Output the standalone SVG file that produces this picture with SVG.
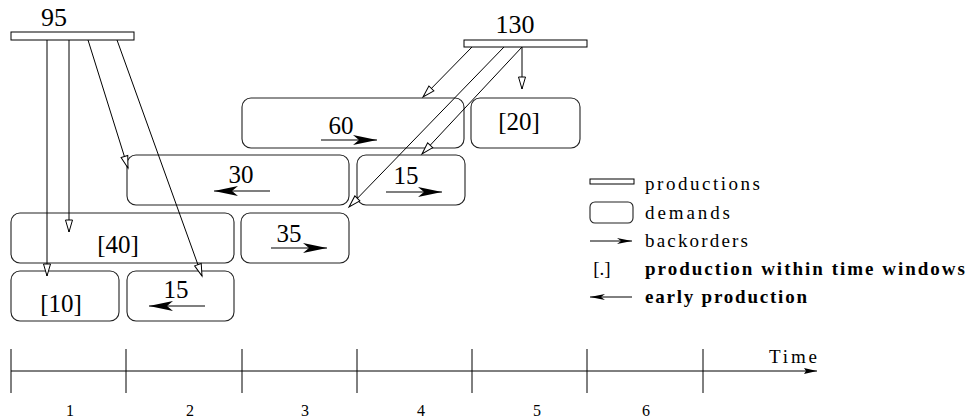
<svg xmlns="http://www.w3.org/2000/svg" width="967" height="419" viewBox="0 0 967 419">
  <defs>
    <marker id="open" markerUnits="userSpaceOnUse" markerWidth="14" markerHeight="9" refX="12" refY="3.5" orient="auto" overflow="visible">
      <path d="M0,0 L12,3.5 L0,7 z" fill="#fff" stroke="#000" stroke-width="1"/>
    </marker>
    <marker id="stealth" markerUnits="userSpaceOnUse" markerWidth="26" markerHeight="11" refX="24" refY="5" orient="auto" overflow="visible">
      <path d="M24,5 L0,0 L6,5 L0,10 z" fill="#000"/>
    </marker>
    <marker id="stealthS" markerUnits="userSpaceOnUse" markerWidth="16" markerHeight="8" refX="15" refY="3" orient="auto" overflow="visible">
      <path d="M15,3 L0,0 L4,3 L0,6 z" fill="#000"/>
    </marker>
    <marker id="tri" markerUnits="userSpaceOnUse" markerWidth="14" markerHeight="8" refX="13" refY="3" orient="auto" overflow="visible">
      <path d="M13,3 L0,0 L2,3 L0,6 z" fill="#000"/>
    </marker>
  </defs>

  <!-- productions -->
  <g id="prod-95">
    <rect x="11" y="32" width="123" height="8" fill="#fff" stroke="#000"/>
    <text font-family="Liberation Serif" font-size="26" text-anchor="middle" x="54" y="26">95</text>
  </g>
  <g id="prod-130">
    <rect x="464" y="40" width="123" height="7" fill="#fff" stroke="#000"/>
    <text font-family="Liberation Serif" font-size="26" text-anchor="middle" x="515" y="33">130</text>
  </g>

  <!-- demands -->
  <g id="demands" fill="none" stroke="#222" stroke-width="1.1">
    <g id="dem-60">
      <rect x="242" y="98" width="222" height="50" rx="9"/>
      <text font-family="Liberation Serif" font-size="25" text-anchor="middle" fill="#000" stroke="none" x="341" y="134">60</text>
    </g>
    <g id="dem-20">
      <rect x="471" y="98" width="109" height="50" rx="9"/>
      <text font-family="Liberation Serif" font-size="25" text-anchor="middle" fill="#000" stroke="none" x="519" y="130">[20]</text>
    </g>
    <g id="dem-30">
      <rect x="127" y="155" width="222" height="50" rx="9"/>
      <text font-family="Liberation Serif" font-size="25" text-anchor="middle" fill="#000" stroke="none" x="241" y="183">30</text>
    </g>
    <g id="dem-15b">
      <rect x="357" y="155" width="108" height="50" rx="9"/>
      <text font-family="Liberation Serif" font-size="25" text-anchor="middle" fill="#000" stroke="none" x="406" y="184">15</text>
    </g>
    <g id="dem-40">
      <rect x="11" y="213" width="223" height="50" rx="9"/>
      <text font-family="Liberation Serif" font-size="25" text-anchor="middle" fill="#000" stroke="none" x="118" y="253">[40]</text>
    </g>
    <g id="dem-35">
      <rect x="241" y="213" width="108" height="50" rx="9"/>
      <text font-family="Liberation Serif" font-size="25" text-anchor="middle" fill="#000" stroke="none" x="289" y="242">35</text>
    </g>
    <g id="dem-10">
      <rect x="11" y="271" width="108" height="50" rx="9"/>
      <text font-family="Liberation Serif" font-size="25" text-anchor="middle" fill="#000" stroke="none" x="61" y="312">[10]</text>
    </g>
    <g id="dem-15e">
      <rect x="127" y="271" width="107" height="50" rx="9"/>
      <text font-family="Liberation Serif" font-size="25" text-anchor="middle" fill="#000" stroke="none" x="176" y="298">15</text>
    </g>
  </g>

  <!-- backorder / early production flows inside demands -->
  <g id="flows" fill="none" stroke="#000" stroke-width="1.2">
    <line x1="321" y1="140" x2="377" y2="140" marker-end="url(#stealth)"/>
    <line x1="270" y1="191" x2="214" y2="191" marker-end="url(#stealth)"/>
    <line x1="386" y1="192" x2="442" y2="192" marker-end="url(#stealth)"/>
    <line x1="271" y1="248" x2="327" y2="248" marker-end="url(#stealth)"/>
    <line x1="205" y1="306" x2="149" y2="306" marker-end="url(#stealth)"/>
  </g>

  <!-- production allocations -->
  <g id="connectors" fill="none" stroke="#000" stroke-width="1">
    <line x1="47" y1="40" x2="47" y2="276" marker-end="url(#open)"/>
    <line x1="69" y1="40" x2="69" y2="232" marker-end="url(#open)"/>
    <line x1="88" y1="40" x2="128" y2="168" marker-end="url(#open)"/>
    <line x1="117" y1="40" x2="202" y2="276" marker-end="url(#open)"/>
    <line x1="472" y1="47" x2="423" y2="97" marker-end="url(#open)"/>
    <line x1="504" y1="47" x2="349" y2="207" marker-end="url(#open)"/>
    <line x1="522" y1="47" x2="422" y2="154" marker-end="url(#open)"/>
    <line x1="522" y1="47" x2="522" y2="89" marker-end="url(#open)"/>
  </g>

  <!-- legend -->
  <g id="legend">
    <rect x="590" y="179" width="44" height="5" fill="#fff" stroke="#000"/>
    <text font-family="Liberation Serif" font-size="19" x="645" y="190" textLength="115" lengthAdjust="spacing">productions</text>
    <rect x="590" y="202" width="43" height="21" rx="5" fill="none" stroke="#222" stroke-width="1.1"/>
    <text font-family="Liberation Serif" font-size="19" x="645" y="219" textLength="85" lengthAdjust="spacing">demands</text>
    <line x1="590" y1="241" x2="632" y2="241" stroke="#000" stroke-width="1" marker-end="url(#stealthS)"/>
    <text font-family="Liberation Serif" font-size="19" x="645" y="247" textLength="103" lengthAdjust="spacing">backorders</text>
    <text font-family="Liberation Serif" font-size="19" x="602" y="275" text-anchor="middle">[.]</text>
    <text font-family="Liberation Serif" font-size="19" font-weight="bold" x="645" y="275" textLength="320" lengthAdjust="spacing">production within time windows</text>
    <line x1="632" y1="297" x2="590" y2="297" stroke="#000" stroke-width="1" marker-end="url(#stealthS)"/>
    <text font-family="Liberation Serif" font-size="19" font-weight="bold" x="645" y="303" textLength="162" lengthAdjust="spacing">early production</text>
  </g>

  <!-- time axis -->
  <g id="timeline">
    <g fill="none" stroke="#000" stroke-width="1">
      <line x1="11" y1="371" x2="817" y2="371" marker-end="url(#tri)"/>
      <line x1="11" y1="349" x2="11" y2="393"/>
      <line x1="126" y1="349" x2="126" y2="393"/>
      <line x1="242" y1="349" x2="242" y2="393"/>
      <line x1="357" y1="349" x2="357" y2="393"/>
      <line x1="472" y1="349" x2="472" y2="393"/>
      <line x1="587" y1="349" x2="587" y2="393"/>
      <line x1="703" y1="349" x2="703" y2="393"/>
    </g>
    <text font-family="Liberation Serif" font-size="19" x="769" y="363" textLength="48" lengthAdjust="spacing">Time</text>
    <text font-family="Liberation Serif" font-size="16" text-anchor="middle" x="70" y="416">1</text>
    <text font-family="Liberation Serif" font-size="16" text-anchor="middle" x="190" y="416">2</text>
    <text font-family="Liberation Serif" font-size="16" text-anchor="middle" x="305" y="416">3</text>
    <text font-family="Liberation Serif" font-size="16" text-anchor="middle" x="421" y="416">4</text>
    <text font-family="Liberation Serif" font-size="16" text-anchor="middle" x="537" y="416">5</text>
    <text font-family="Liberation Serif" font-size="16" text-anchor="middle" x="646" y="416">6</text>
  </g>
</svg>
